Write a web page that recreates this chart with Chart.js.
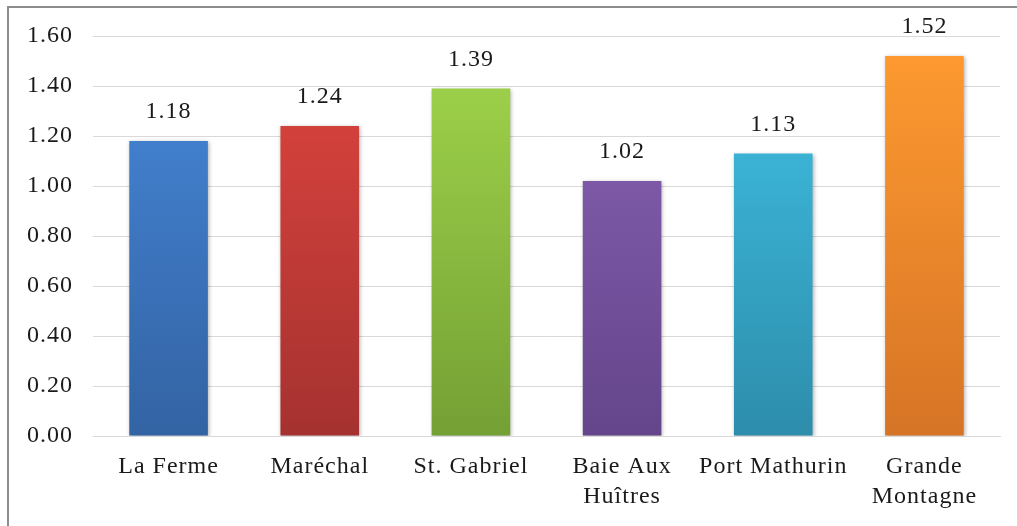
<!DOCTYPE html>
<html>
<head>
<meta charset="utf-8">
<script src="https://cdn.jsdelivr.net/npm/chart.js@4"></script>
<style>
html,body{margin:0;padding:0;background:#fff;}
#wrap{position:relative;width:1017px;height:526px;}
</style>
</head>
<body>
<div id="wrap"><canvas id="bar_chart"></canvas></div>
<script>
// data
const places = ['La Ferme', 'Maréchal', 'St. Gabriel', ['Baie Aux', 'Huîtres'], 'Port Mathurin', ['Grande', 'Montagne']];
const values = [1.18, 1.24, 1.39, 1.02, 1.13, 1.52];
const yTicks = [0, 0.2, 0.4, 0.6, 0.8, 1.0, 1.2, 1.4, 1.6];
const topColors = ['#4688da', '#e0453f', '#a2d64c', '#8a63b6', '#40c2e6', '#ff9b30'];
const bottomColors = ['#3363a3', '#a53230', '#74a034', '#64458a', '#2d8dab', '#d67426'];

const FONT = "'Liberation Serif', 'Times New Roman', serif";
const TEXT = '#1a1a1a';

function barFill(c) {
    const area = c.chart.chartArea;
    if (!area) return topColors[c.dataIndex];
    const g = c.chart.ctx.createLinearGradient(0, area.top, 0, area.bottom);
    g.addColorStop(0, topColors[c.dataIndex]);
    g.addColorStop(1, bottomColors[c.dataIndex]);
    return g;
}

// the reference text is a bit wider than Liberation Serif, so spread it a little
const spacing = {
    id: 'spacing',
    beforeUpdate(chart) { chart.ctx.letterSpacing = '1px'; },
    beforeDraw(chart) { chart.ctx.letterSpacing = '1px'; }
};

const frame = {
    id: 'frame',
    afterDraw(chart) {
        const c = chart.ctx;
        c.save();
        c.strokeStyle = '#8c8c8c';
        c.lineWidth = 2;
        c.beginPath();
        c.moveTo(8, 526);
        c.lineTo(8, 7);
        c.lineTo(1017, 7);
        c.stroke();
        c.restore();
    }
};

const shadow = {
    id: 'shadow',
    beforeDatasetsDraw(chart) {
        const c = chart.ctx;
        c.save();
        c.shadowColor = 'rgba(0,0,0,0.3)';
        c.shadowBlur = 4;
        c.shadowOffsetX = 1;
        c.shadowOffsetY = 1;
    },
    afterDatasetsDraw(chart) {
        chart.ctx.restore();
    }
};

const valueLabels = {
    id: 'valueLabels',
    afterDatasetsDraw(chart) {
        const c = chart.ctx;
        const meta = chart.getDatasetMeta(0);
        c.save();
        c.font = '24px ' + FONT;
        c.fillStyle = TEXT;
        c.textAlign = 'center';
        c.textBaseline = 'middle';
        meta.data.forEach((bar, i) => {
            c.fillText(values[i].toFixed(2), bar.x, bar.y - 29);
        });
        c.restore();
    }
};

const ctx = document.getElementById('bar_chart').getContext('2d');
const bar_chart = new Chart(ctx, {
type: 'bar',
data: {
    labels: places,
    datasets: [{
        data: values,
        backgroundColor: barFill,
        borderWidth: 0,
        barPercentage: 0.52,
        categoryPercentage: 1
    }]
},
options: {
    responsive: true,
    maintainAspectRatio: false,
    animation: false,
    layout: { padding: { top: 36, right: 17, left: 0, bottom: 0 } },
    plugins: { legend: { display: false }, tooltip: { enabled: false } },
    scales: {
        x: {
            grid: { display: false, drawTicks: false },
            border: { display: true, color: '#d9d9d9', width: 1 },
            ticks: {
                color: TEXT,
                font: { family: FONT, size: 24, lineHeight: 1.25 },
                padding: 16,
                maxRotation: 0,
                autoSkip: false
            },
            afterFit(s) { s.height = 90; }
        },
        y: {
            min: 0,
            max: 1.6,
            afterBuildTicks(s) { s.ticks = yTicks.map(v => ({ value: v })); },
            ticks: {
                color: TEXT,
                font: { family: FONT, size: 24 },
                padding: 20,
                callback: v => Number(v).toFixed(2)
            },
            grid: { color: '#d9d9d9', lineWidth: 1, drawTicks: false },
            border: { display: false },
            afterFit(s) { s.width = 93; }
        }
    }
},
plugins: [spacing, shadow, valueLabels, frame]
});
</script>
</body>
</html>
